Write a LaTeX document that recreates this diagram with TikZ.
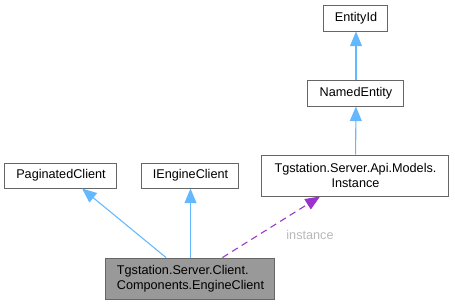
\documentclass[tikz,border=0pt]{standalone}
\usepackage{fontspec}
\setmainfont{Liberation Sans}
\usetikzlibrary{arrows.meta,calc}
\definecolor{edgeblue}{HTML}{63B8FF}
\definecolor{edgepurple}{HTML}{9A32CD}
\definecolor{boxline}{HTML}{666666}
\definecolor{boxfill}{HTML}{999999}
\definecolor{labelgray}{HTML}{B8B8B8}
\begin{document}
\begin{tikzpicture}[x=0.75pt,y=-0.75pt,
  font=\fontsize{9.5pt}{11pt}\selectfont,
  cls/.style={draw=boxline,line width=0.75pt,fill=white,inner sep=0pt,align=center},
  current/.style={cls,fill=boxfill},
  inherit/.style={draw=edgeblue,line width=0.8pt,-{Triangle[length=11pt,width=9pt,fill=edgeblue]}},
  usage/.style={draw=edgepurple,line width=0.8pt,dash pattern=on 5pt off 3.5pt,-{Triangle[length=11pt,width=9pt,fill=edgepurple]}}]
\useasboundingbox (0,0) rectangle (455,305);

\node[cls,minimum width=64*0.75pt,minimum height=26*0.75pt] (eid) at (356,18) {EntityId};
\node[cls,minimum width=96*0.75pt,minimum height=26*0.75pt] (ne) at (356,93) {NamedEntity};
\node[cls,minimum width=187*0.75pt,minimum height=41*0.75pt] (inst) at (355.5,175.5) {Tgstation.Server.Api.Models.\\Instance};
\node[cls,minimum width=112*0.75pt,minimum height=25*0.75pt] (pc) at (61,175.5) {PaginatedClient};
\node[cls,minimum width=97*0.75pt,minimum height=25*0.75pt] (ie) at (190.5,175.5) {IEngineClient};
\node[current,minimum width=169*0.75pt,minimum height=41*0.75pt,align=left] (ec) at (190.5,278.5) {Tgstation.Server.Client.\\Components.EngineClient};

\draw[inherit] (ne) -- (eid);
\draw[inherit] (inst) -- (ne);
\draw[inherit] ($(ec.north)+(-24.5,0)$) -- ($(pc.south)+(21,0)$);
\draw[inherit] (ec) -- (ie);
\draw[usage] ($(ec.north)+(32,0)$) -- ($(inst.south)+(-35.5,0)$);
\node[text=labelgray] (lbl) at (310,235) {instance};
\end{tikzpicture}
\end{document}
